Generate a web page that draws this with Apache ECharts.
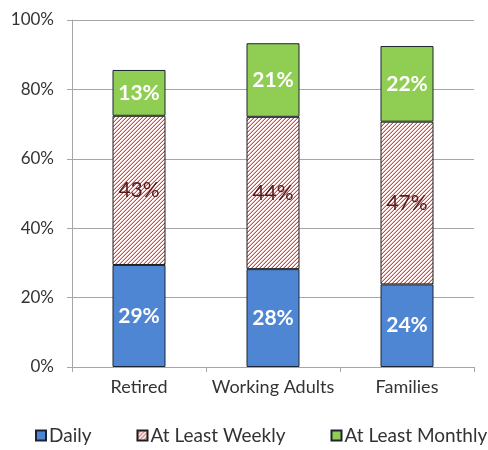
<!DOCTYPE html>
<html>
<head>
<meta charset="utf-8">
<script src="https://cdn.jsdelivr.net/npm/echarts@6/dist/echarts.min.js"></script>
<style>
  html, body { margin: 0; padding: 0; background: #fff; }
  #chart { width: 488px; height: 450px; }
</style>
</head>
<body>
<div id="chart"></div>
<script>
const categories = ['Retired', 'Working Adults', 'Families']
const daily = [29.4, 28.2, 23.8]
const weekly = [43.0, 43.9, 46.9]
const monthly = [13.2, 21.2, 21.8]
const yTicks = [0, 20, 40, 60, 80, 100]

const font = 'Lato, "Open Sans", sans-serif'

// diagonal red hatch used by "At Least Weekly"
function makeHatch() {
  const c = document.createElement('canvas')
  c.width = 4
  c.height = 4
  const ctx = c.getContext('2d')
  ctx.fillStyle = '#ffffff'
  ctx.fillRect(0, 0, 4, 4)
  for (let x = 0; x < 4; x++) {
    for (let y = 0; y < 4; y++) {
      const k = (x + y) % 4
      if (k === 3) {
        ctx.fillStyle = '#c0504d'
        ctx.fillRect(x, y, 1, 1)
      }
      else if (k === 2) {
        ctx.fillStyle = '#ecbcba'
        ctx.fillRect(x, y, 1, 1)
      }
    }
  }
  return c
}

const chart = echarts.init(document.getElementById('chart'))

function pct(p) {
  return Math.round(p.value) + '%'
}

const barBase = {
  type: 'bar',
  stack: 'total',
  barWidth: 53,
}

chart.setOption({
  animation: false,
  grid: { left: 72, right: 14, top: 20, bottom: 83 },
  legend: {
    bottom: 5,
    left: 35,
    width: 453,
    padding: 0,
    itemWidth: 10,
    itemHeight: 10,
    itemGap: 45,
    icon: 'rect',
    textStyle: { fontFamily: font, fontSize: 19, color: '#333333', padding: [0, 0, 0, -2] },
    data: ['Daily', 'At Least Weekly', 'At Least Monthly'],
  },
  xAxis: {
    type: 'category',
    data: categories,
    axisLine: { lineStyle: { color: '#a6a6a6' } },
    axisTick: { show: true, length: 5, lineStyle: { color: '#a6a6a6' } },
    axisLabel: { interval: 0, fontFamily: font, fontSize: 18, color: '#333333', margin: 11 },
  },
  yAxis: {
    type: 'value',
    min: yTicks[0],
    max: yTicks[yTicks.length - 1],
    interval: 20,
    axisLine: { show: true, lineStyle: { color: '#a6a6a6' } },
    axisTick: { show: true, length: 5, lineStyle: { color: '#a6a6a6' } },
    splitLine: { lineStyle: { color: '#a6a6a6' } },
    axisLabel: { fontFamily: font, fontSize: 17, color: '#333333', margin: 18, formatter: '{value}%' },
  },
  series: [
    {
      ...barBase,
      name: 'Daily',
      data: daily,
      itemStyle: { color: '#4f86d4', borderColor: '#1c2433', borderWidth: 1 },
      label: { show: true, position: 'inside', formatter: pct, color: '#ffffff', fontWeight: 'bold', fontFamily: font, fontSize: 21 },
    },
    {
      ...barBase,
      name: 'At Least Weekly',
      data: weekly,
      itemStyle: { color: { image: makeHatch(), repeat: 'repeat' }, borderColor: '#1c1c1c', borderWidth: 1 },
      label: { show: true, position: 'inside', formatter: pct, color: '#5a1818', fontFamily: font, fontSize: 21 },
    },
    {
      ...barBase,
      name: 'At Least Monthly',
      data: monthly,
      itemStyle: { color: '#8fce52', borderColor: '#1c2433', borderWidth: 1 },
      label: { show: true, position: 'inside', formatter: pct, color: '#ffffff', fontWeight: 'bold', fontFamily: font, fontSize: 21 },
    },
  ],
})
</script>
</body>
</html>
